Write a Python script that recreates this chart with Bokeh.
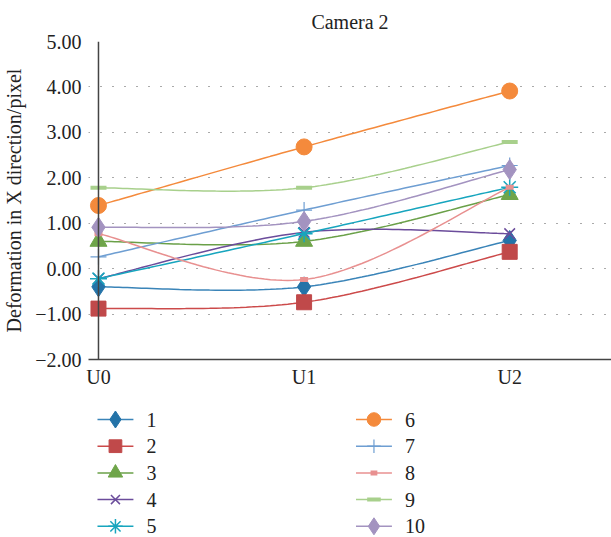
from bokeh.plotting import figure
from bokeh.models import FixedTicker, Range1d, Span
from bokeh.layouts import column
from bokeh.core.properties import value
from bokeh.embed import file_html
from bokeh.resources import INLINE
import numpy as np

categories = ["U0", "U1", "U2"]
series_names = ["1", "2", "3", "4", "5", "6", "7", "8", "9", "10"]
s1 = [-0.40, -0.40, 0.62]
s2 = [-0.88, -0.74, 0.37]
s3 = [0.60, 0.60, 1.63]
s4 = [-0.22, 0.80, 0.77]
s5 = [-0.22, 0.77, 1.79]
s6 = [1.39, 2.68, 3.91]
s7 = [0.26, 1.29, 2.27]
s8 = [0.77, -0.24, 1.79]
s9 = [1.78, 1.78, 2.79]
s10 = [0.91, 1.04, 2.18]
y_ticks = [-2, -1, 0, 1, 2, 3, 4, 5]

all_series = [s1, s2, s3, s4, s5, s6, s7, s8, s9, s10]
colors = ["#2473A8", "#C0494A", "#6FA54A", "#6B4C9B", "#17A5BE",
          "#F48A3C", "#6E9ED2", "#E89090", "#A8D08C", "#A393C0"]
line_colors = ["#3A84B8", "#CC4A4A", "#6AA048", "#6B4C9B", "#17A5BE",
               "#F48A3C", "#6E9ED2", "#E89090", "#A8D08C", "#A393C0"]
# marker style per series: (marker, size, filled, line_width)
marker_styles = [("diamond", 20, True, 1), ("square", 15, True, 1), ("triangle", 17, True, 1),
                 ("x", 15, False, 1.5), ("asterisk", 17, False, 1.5), ("circle", 16, True, 1),
                 ("cross", 16, False, 1.2), ("dash", 8, False, 5), ("dash", 16, False, 4),
                 ("diamond", 20, True, 1)]
FONT = "'Liberation Serif', 'Times New Roman', serif"
TXT = "#222222"


def smooth(ys, n=40):
    pts = [np.array([float(i), float(v)]) for i, v in enumerate(ys)]
    xs_out, ys_out = [], []
    m = len(pts)
    for i in range(m - 1):
        p0 = pts[i - 1] if i > 0 else pts[i]
        p1, p2 = pts[i], pts[i + 1]
        p3 = pts[i + 2] if i + 2 < m else pts[i + 1]
        c1 = p1 + (p2 - p0) / 6.0
        c2 = p2 - (p3 - p1) / 6.0
        t = np.linspace(0, 1, n)[:, None]
        b = ((1 - t) ** 3) * p1 + 3 * ((1 - t) ** 2) * t * c1 + 3 * (1 - t) * t ** 2 * c2 + t ** 3 * p2
        if i > 0:
            b = b[1:]
        xs_out.extend(b[:, 0].tolist())
        ys_out.extend(b[:, 1].tolist())
    return xs_out, ys_out


def add_marker(fig, xs, ys, k, scale=1.0):
    mk, size, filled, lw = marker_styles[k]
    c = colors[k]
    if filled:
        return fig.scatter(xs, ys, marker=mk, size=size * scale, fill_color=c, line_color=c)
    return fig.scatter(xs, ys, marker=mk, size=size * scale, line_color=c, line_width=lw)


# ---------------- main chart ----------------
LEFT = 87
PX_PER_CAT = 206.0
p = figure(width=611, height=392, output_backend="svg", toolbar_location=None,
           x_range=Range1d(-10 / PX_PER_CAT, (611 - LEFT - 10) / PX_PER_CAT),
           y_range=Range1d(-2, 5),
           min_border_left=LEFT, min_border_right=0, min_border_top=41,
           min_border_bottom=33)
p.outline_line_color = None
p.background_fill_color = "white"

p.title.text = "Camera 2"
p.title.align = "center"
p.title.text_font = FONT
p.title.text_font_size = "20px"
p.title.text_font_style = "normal"
p.title.text_color = TXT
p.title.standoff = 17
p.title.offset = 5

p.yaxis.ticker = FixedTicker(ticks=y_ticks)
p.yaxis.major_label_overrides = {t: (f"{t:.2f}".replace("-", "\u2212")) for t in y_ticks}
p.xaxis.ticker = FixedTicker(ticks=[0, 1, 2])
p.xaxis.major_label_overrides = {i: c for i, c in enumerate(categories)}
for ax in (p.xaxis, p.yaxis):
    ax.major_tick_line_color = None
    ax.minor_tick_line_color = None
    ax.major_label_text_font = FONT
    ax.major_label_text_font_size = "20px"
    ax.major_label_text_color = TXT
p.xaxis.axis_line_color = "#444444"
p.xaxis.axis_line_width = 1.5
p.yaxis.axis_line_color = None
p.yaxis.axis_label = "Deformation in X direction/pixel"
p.yaxis.axis_label_text_font = FONT
p.yaxis.axis_label_text_font_size = "20px"
p.yaxis.axis_label_text_font_style = "normal"
p.yaxis.axis_label_text_color = TXT
p.yaxis.axis_label_standoff = 7
p.yaxis.major_label_standoff = 1
p.xaxis.major_label_standoff = 0

p.xgrid.grid_line_color = None
p.ygrid.grid_line_color = "#555555"
p.ygrid.grid_line_dash = "1 11"
p.ygrid.grid_line_width = 1.2

p.add_layout(Span(location=0, dimension="height", line_color="#444444", line_width=1.5))

xs_pts = list(range(len(categories)))
for k, ys in enumerate(all_series):
    sx, sy = smooth(ys)
    p.line(sx, sy, line_color=line_colors[k], line_width=1.5)
    add_marker(p, xs_pts, ys, k)

# ---------------- legend (drawn below the chart) ----------------
# The column layout aligns this frame with the chart frame, so its x range
# starts at the same left border; coordinates are then page pixels.
LH = 537 - 392
leg = figure(width=611, height=LH, output_backend="svg", toolbar_location=None,
             x_range=Range1d(LEFT, 611), y_range=Range1d(LH, 0),
             min_border=0, min_border_left=LEFT, min_border_right=0,
             min_border_top=0, min_border_bottom=0)
leg.axis.visible = False
leg.grid.visible = False
leg.outline_line_color = None

col_x = [96, 355]
row_y0, row_dy = 27, 26.7
for k, name in enumerate(series_names):
    cx = col_x[k // 5]
    cy = row_y0 + (k % 5) * row_dy
    leg.line([cx, cx + 36], [cy, cy], line_color=line_colors[k], line_width=1.5)
    add_marker(leg, [cx + 18], [cy], k, scale=0.85)
    leg.text([cx + 49], [cy], text=[name], text_font=value(FONT), text_font_size="20px",
             text_color=TXT, text_baseline="middle", text_align="left")

layout = column(p, leg, spacing=0)
open("out.html", "w").write(file_html(layout, INLINE))
